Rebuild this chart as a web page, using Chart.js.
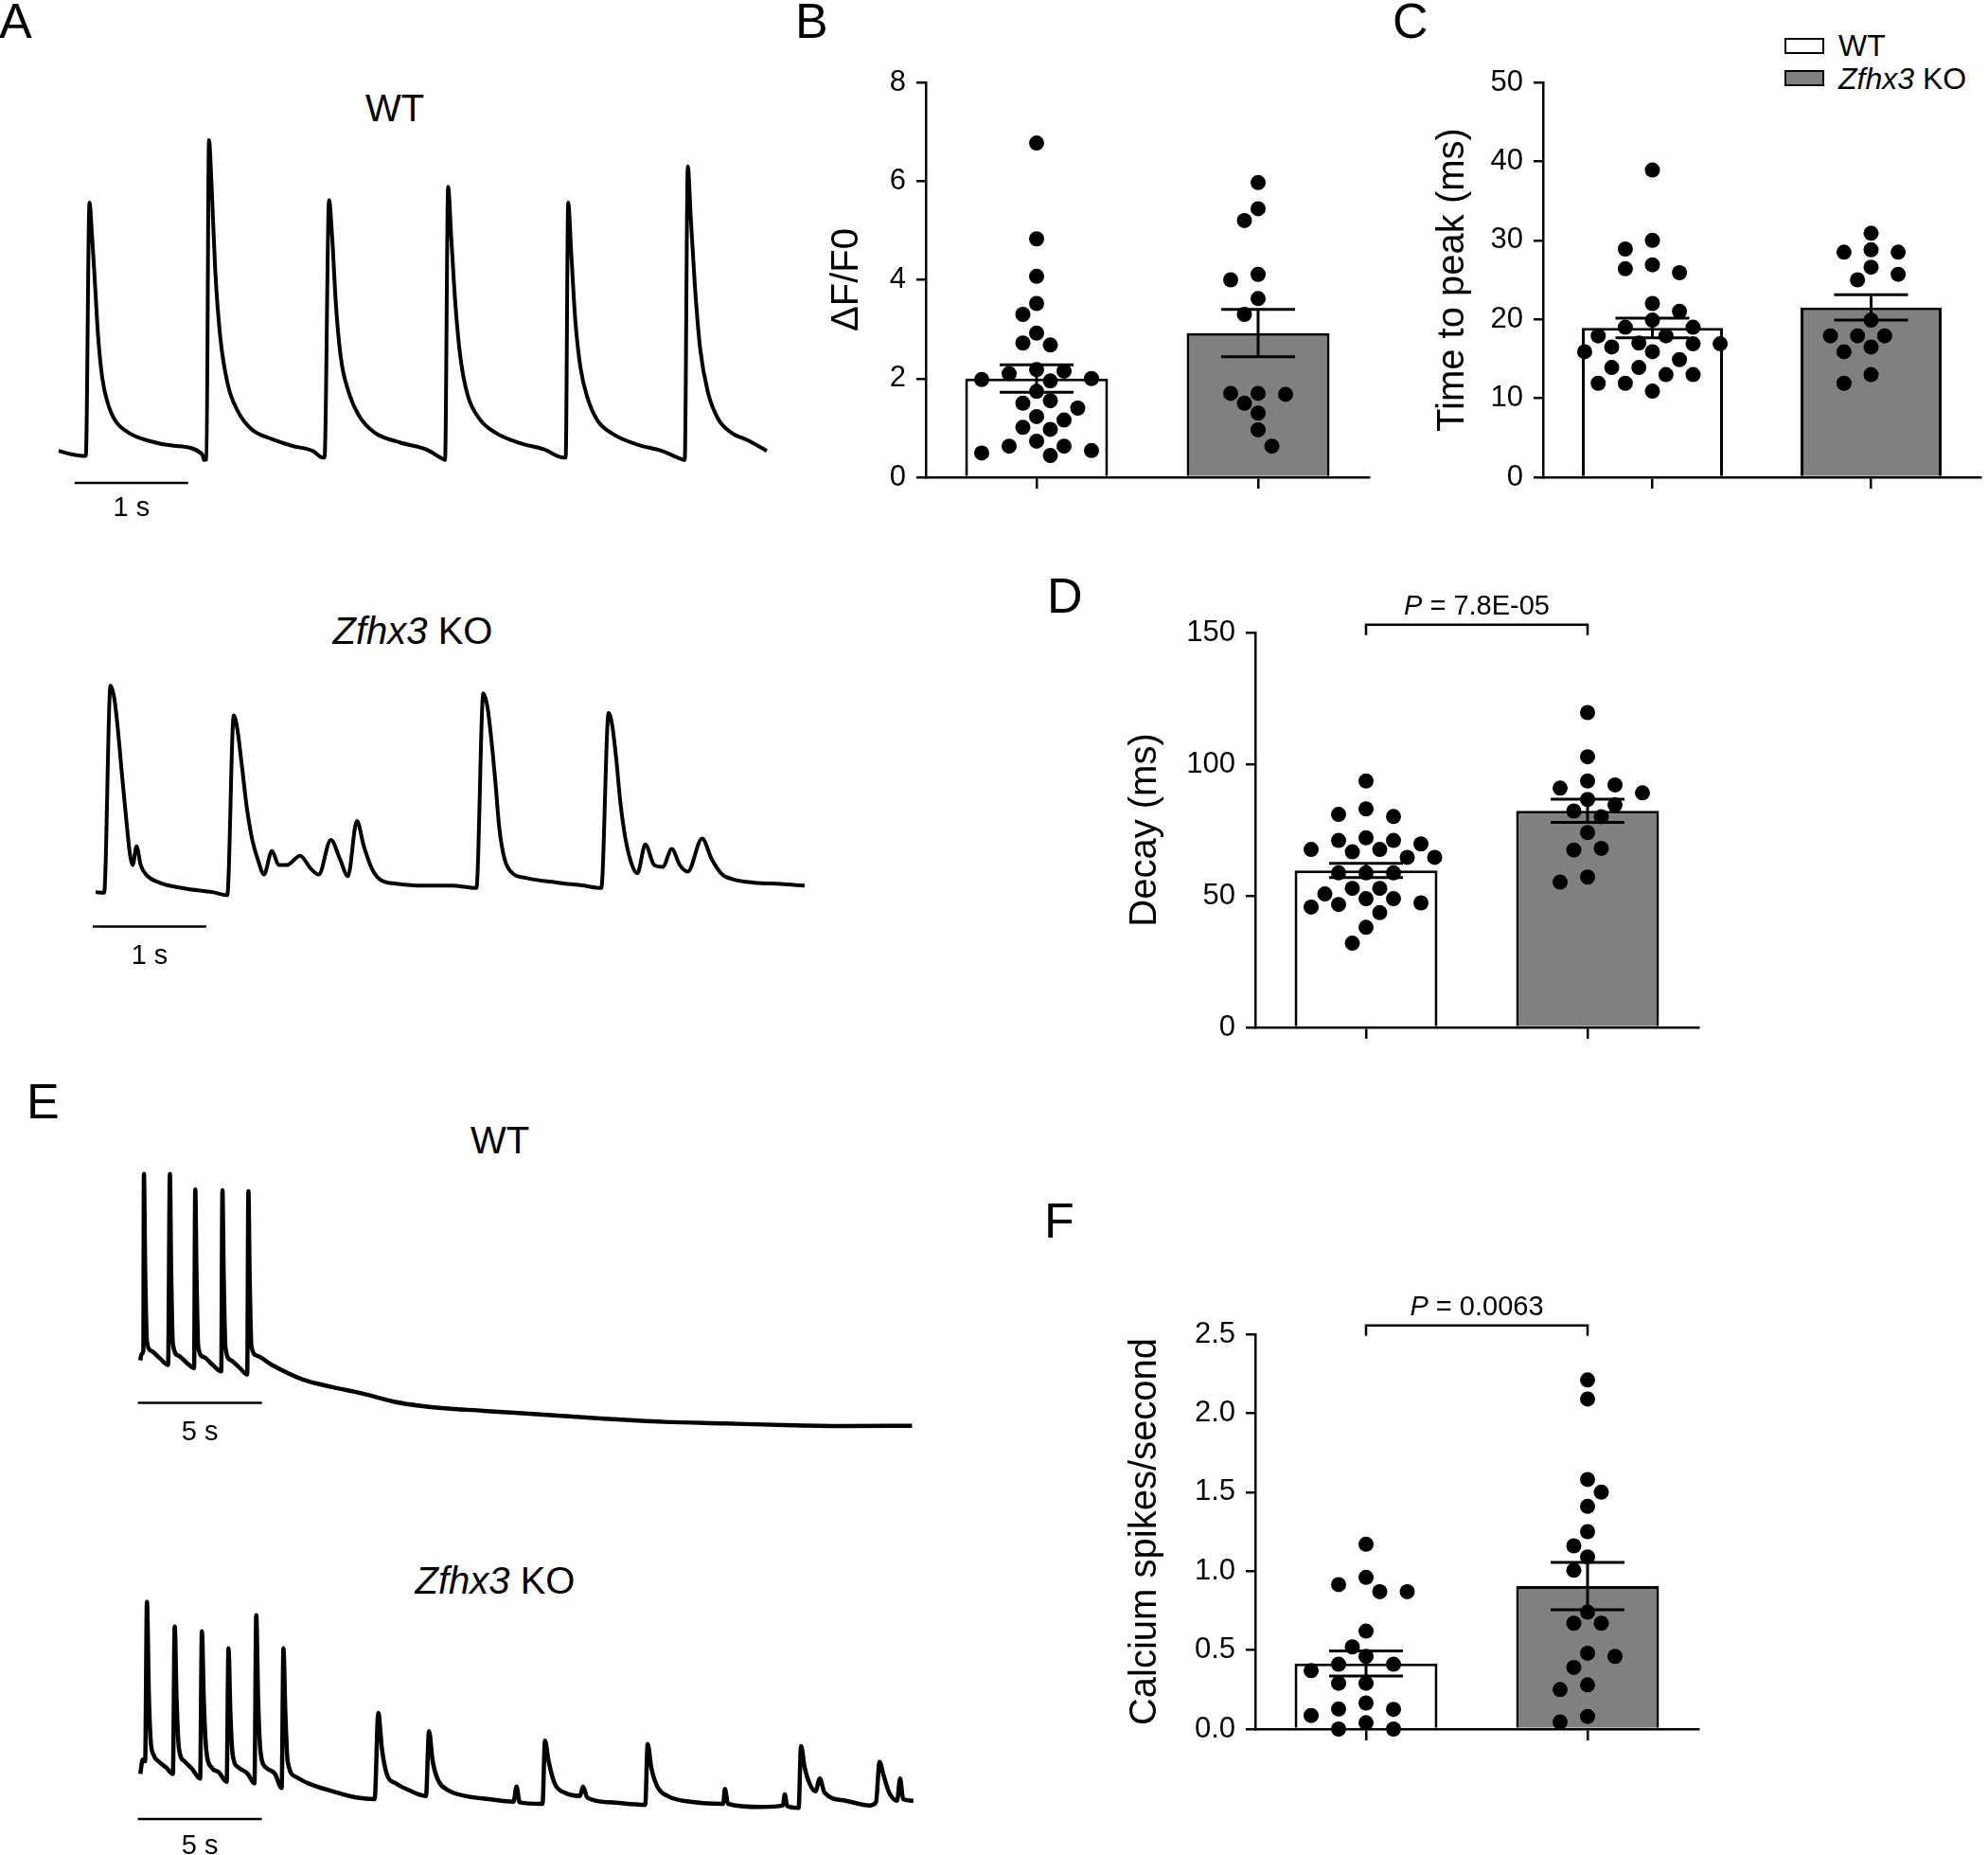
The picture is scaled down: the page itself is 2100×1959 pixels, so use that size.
<!DOCTYPE html>
<html>
<head>
<meta charset="utf-8">
<title>Zfhx3 KO calcium transients</title>
<script src="https://cdn.jsdelivr.net/npm/chart.js@4.4.0/dist/chart.umd.min.js"></script>
<style>
  body { margin: 0; background: #fff; }
  #fig { position: relative; width: 2100px; height: 1959px; overflow: hidden;
         font-family: "Liberation Sans", Arial, sans-serif; color: #000; }
  #fig canvas { position: absolute; }
  .lbl { position: absolute; white-space: nowrap; line-height: 1; }
  .panel { font-size: 52px; }
  .title { font-size: 40px; transform: translateX(-50%); }
  .leg { font-size: 32px; }
  .box { position: absolute; box-sizing: border-box; border: 2px solid #000; width: 42px; height: 17px; }
</style>
</head>
<body>
<div id="fig">
  <div class="lbl panel" style="left:-1px;top:-4px">A</div>
  <div class="lbl panel" style="left:840px;top:-4px">B</div>
  <div class="lbl panel" style="left:1471px;top:-4px">C</div>
  <div class="lbl panel" style="left:1106px;top:603px">D</div>
  <div class="lbl panel" style="left:28px;top:1137px">E</div>
  <div class="lbl panel" style="left:1103px;top:1263px">F</div>

  <div class="lbl title" style="left:417px;top:94px">WT</div>
  <div class="lbl title" style="left:436px;top:646px"><i>Zfhx3</i> KO</div>
  <div class="lbl title" style="left:528px;top:1184px">WT</div>
  <div class="lbl title" style="left:523px;top:1649px"><i>Zfhx3</i> KO</div>

  <div class="box" style="left:1885px;top:40px;background:#fff"></div>
  <div class="lbl leg" style="left:1942px;top:32px">WT</div>
  <div class="box" style="left:1885px;top:74px;background:#808080"></div>
  <div class="lbl leg" style="left:1942px;top:67px"><i>Zfhx3</i> KO</div>

  <canvas id="aWt" width="816" height="428" style="left:26px;top:132px"></canvas>
  <canvas id="aKo" width="840" height="335" style="left:41px;top:698px"></canvas>
  <canvas id="eWt" width="865" height="317" style="left:122px;top:1223px"></canvas>
  <canvas id="eKo" width="865" height="290" style="left:122px;top:1680px"></canvas>

  <canvas id="dfChart" width="600" height="520" style="left:860px;top:40px"></canvas>
  <canvas id="ttpChart" width="620" height="520" style="left:1480px;top:40px"></canvas>
  <canvas id="decayChart" width="660" height="540" style="left:1160px;top:600px"></canvas>
  <canvas id="spikeChart" width="660" height="540" style="left:1160px;top:1340px"></canvas>
</div>

<script>
// ---- panel A traces: time (s) and dF/F0 (arbitrary units, baseline ~0) ----
var aWtTime = [0, 0.113, 0.226, 0.239, 0.271, 0.294, 0.316, 0.348, 0.384, 0.429, 0.497, 0.61, 0.79, 1.016, 1.265,
  1.278, 1.301, 1.323, 1.346, 1.378, 1.423, 1.49, 1.581, 1.694, 1.875, 2.055, 2.236, 2.326,
  2.34, 2.38, 2.407, 2.44, 2.484, 2.552, 2.642, 2.778, 3.004, 3.23, 3.388,
  3.401, 3.428, 3.455, 3.492, 3.537, 3.6, 3.704, 3.84, 4.043, 4.269, 4.449,
  4.463, 4.485, 4.512, 4.548, 4.594, 4.657, 4.743, 4.879, 5.082, 5.308, 5.488,
  5.511, 5.538, 5.565, 5.601, 5.646, 5.714, 5.804, 5.917, 6.075, 6.233];
var aWtTrace = [0.15, 0.05, 0, 0, 7.5, 6.5, 5.3, 3.5, 2.3, 1.6, 1.05, 0.7, 0.45, 0.3, 0.05,
  -0.12, -0.1, 9.35, 8.0, 5.5, 3.5, 2.1, 1.3, 0.8, 0.5, 0.3, 0.15, -0.05,
  -0.05, 7.57, 6.5, 4.5, 2.9, 1.9, 1.2, 0.7, 0.4, 0.2, -0.1,
  -0.12, 7.97, 6.5, 4.5, 2.9, 1.8, 1.1, 0.7, 0.4, 0.2, -0.05,
  -0.05, 7.5, 6.0, 4.0, 2.6, 1.7, 1.05, 0.65, 0.35, 0.15, -0.1,
  -0.12, 8.57, 7.0, 5.0, 3.2, 1.9, 1.1, 0.7, 0.45, 0.15];

var aKoTime = [0, 0.075, 0.131, 0.164, 0.196, 0.234, 0.271, 0.304, 0.327, 0.36, 0.397, 0.444, 0.561, 0.795, 1.029, 1.159,
  1.216, 1.248, 1.286, 1.332, 1.379, 1.435, 1.482, 1.552, 1.613, 1.683, 1.8, 1.893, 1.964, 2.071, 2.151, 2.221, 2.3, 2.361, 2.431, 2.501, 2.665, 2.899, 3.132, 3.352,
  3.413, 3.45, 3.483, 3.52, 3.553, 3.6, 3.67, 3.787, 4.067, 4.301, 4.451,
  4.516, 4.549, 4.582, 4.619, 4.666, 4.722, 4.769, 4.839, 4.918, 4.993, 5.072, 5.143, 5.213, 5.339, 5.423, 5.517, 5.61, 5.797, 6.031, 6.241];
var aKoTrace = [-0.05, -0.07, 6.07, 5.7, 4.77, 3.36, 2.06, 1.03, 0.75, 1.31, 0.75, 0.47, 0.23, 0.05, -0.05, -0.14,
  5.19, 4.77, 3.74, 2.43, 1.5, 0.84, 0.47, 1.17, 0.75, 0.75, 1.03, 0.65, 0.47, 1.5, 0.93, 0.42, 2.06, 1.31, 0.65, 0.33, 0.19, 0.14, 0.14, 0.07,
  5.84, 5.42, 4.49, 3.18, 1.87, 0.93, 0.51, 0.37, 0.23, 0.14, 0.07,
  5.26, 4.86, 3.93, 2.62, 1.5, 0.75, 0.51, 1.36, 0.75, 0.7, 1.23, 0.75, 0.56, 1.54, 0.93, 0.47, 0.33, 0.23, 0.19, 0.14];

// ---- panel E traces (long recordings) ----
var eWtTime = [0, 0.049, 0.122, 0.146, 0.195, 0.268, 0.438, 0.803, 1.12,
  1.193, 1.241, 1.314, 1.533, 1.898, 2.166,
  2.215, 2.264, 2.337, 2.556, 2.92, 3.262,
  3.31, 3.359, 3.432, 3.651, 4.016, 4.308,
  4.357, 4.405, 4.478, 4.697, 5.306,
  6.523, 7.74, 8.957, 10.17, 11.39, 13.83, 16.26, 18.69, 21.13, 23.56, 25.99, 28.42, 31.1];
var eWtTrace = [2.1, 2.3, 2.4, 8.0, 5.0, 2.7, 2.4, 2.15, 1.95,
  8.0, 5.0, 2.6, 2.25, 2.0, 1.85,
  7.5, 4.8, 2.5, 2.2, 1.95, 1.75,
  7.48, 4.8, 2.5, 2.1, 1.85, 1.65,
  7.45, 4.8, 2.55, 2.25, 1.95,
  1.5, 1.25, 1.05, 0.8, 0.65, 0.5, 0.38, 0.25, 0.15, 0.1, 0.05, 0.02, 0.03];

var eKoTime = [0, 0.097, 0.195, 0.268, 0.341, 0.414, 0.535, 0.73, 1.047, 1.314,
  1.387, 1.46, 1.558, 1.777, 2.093, 2.41,
  2.483, 2.556, 2.653, 2.872, 3.164, 3.481,
  3.554, 3.627, 3.724, 3.967, 4.333, 4.6,
  4.673, 4.746, 4.844, 5.063, 5.428, 5.696,
  5.769, 5.842, 5.939, 6.28, 6.767, 7.74, 8.714, 9.444,
  9.59, 9.736, 9.931, 10.296, 10.783, 11.513,
  11.635, 11.781, 12.0, 12.365, 13.095, 14.069, 15.042, 15.164, 15.286, 16.21,
  16.308, 16.454, 16.697, 17.111, 17.72, 17.841, 18.012, 18.937, 20.349,
  20.446, 20.592, 20.835, 21.249, 22.344, 23.488, 23.561, 23.683, 25.022, 25.898, 25.971, 26.068, 26.53,
  26.628, 26.774, 26.968, 27.212, 27.383, 27.577, 28.429, 29.403, 29.646,
  29.792, 29.938, 30.182, 30.498, 30.62, 30.742, 31.155];
var eKoTrace = [1.4, 1.85, 1.8, 6.85, 4.0, 2.5, 2.0, 1.8, 1.6, 1.4,
  6.07, 3.8, 2.2, 1.8, 1.55, 1.25,
  5.92, 3.8, 2.2, 1.6, 1.45, 1.15,
  5.38, 3.4, 2.0, 1.6, 1.4, 1.1,
  6.43, 3.8, 2.1, 1.6, 1.4, 0.95,
  5.38, 3.4, 1.8, 1.3, 1.1, 0.85, 0.65, 0.6,
  3.33, 2.2, 1.4, 1.1, 0.9, 0.7,
  2.75, 1.8, 1.2, 0.9, 0.7, 0.6, 0.52, 1.0, 0.5, 0.45,
  2.45, 1.8, 1.1, 0.8, 0.7, 1.0, 0.65, 0.5, 0.42,
  2.35, 1.6, 1.0, 0.7, 0.5, 0.45, 0.92, 0.45, 0.35, 0.4, 0.75, 0.38, 0.32,
  2.28, 1.6, 1.1, 0.85, 1.25, 0.8, 0.55, 0.4, 0.5,
  1.78, 1.4, 0.8, 0.55, 1.25, 0.6, 0.55];

// ---- bar panels: individual cells, mean and SEM ----
var groups = ['WT', 'Zfhx3 KO'];

var dfWT = [6.77, 4.83, 4.07, 3.52, 3.30, 2.92, 2.72, 2.68, 2.18, 2.15, 2.10, 2.00, 1.98, 1.95, 1.74, 1.55, 1.50, 1.40,
  1.23, 1.16, 1.01, 0.97, 0.73, 0.63, 0.63, 0.54, 0.49, 0.44];
var dfKO = [5.97, 5.44, 5.20, 4.11, 4.00, 3.62, 3.30, 1.70, 1.70, 1.68, 1.50, 1.30, 0.96, 0.63];
var dfMean = [2.00, 2.92];
var dfSem = [0.28, 0.48];

var ttpWT = [38.9, 30.0, 28.9, 26.9, 26.4, 25.9, 22.0, 21.0, 19.9, 19.0, 19.0, 17.9, 17.9, 17.0, 16.9, 16.9, 16.5,
  15.9, 15.9, 14.9, 13.9, 13.9, 13.0, 13.0, 11.9, 11.9, 10.9];
var ttpKO = [30.9, 28.8, 28.5, 28.5, 26.6, 25.7, 25.0, 19.9, 17.9, 17.9, 17.9, 16.5, 15.9, 13.0, 11.9];
var ttpMean = [18.9, 21.5];
var ttpSem = [1.25, 1.6];

var decayWT = [93.6, 83.0, 80.9, 80.1, 72.0, 71.0, 71.0, 69.7, 67.6, 67.6, 66.7, 64.6, 64.6, 58.7, 58.7, 58.7,
  52.8, 52.8, 50.7, 48.9, 48.9, 47.3, 46.7, 45.7, 43.6, 38.0, 32.0];
var decayKO = [119.6, 102.8, 93.6, 92.1, 90.9, 89.1, 86.6, 84.5, 82.2, 80.0, 74.0, 68.0, 67.4, 57.1, 55.2];
var decayMean = [59.6, 82.3];
var decaySem = [2.7, 4.4];
var decayP = '7.8E-05';

var spikeWT = [1.17, 0.96, 0.915, 0.87, 0.87, 0.62, 0.52, 0.46, 0.41, 0.41, 0.37, 0.29, 0.29, 0.165, 0.127, 0.125,
  0.086, 0.04, 0.0, 0.0];
var spikeKO = [2.21, 2.09, 1.58, 1.50, 1.41, 1.25, 1.16, 1.09, 1.005, 0.74, 0.67, 0.67, 0.48, 0.46, 0.39, 0.28,
  0.25, 0.08, 0.045];
var spikeMean = [0.415, 0.905];
var spikeSem = [0.08, 0.15];
var spikeP = '0.0063';

Chart.defaults.font.family = '"Liberation Sans", Arial, sans-serif';
Chart.defaults.color = '#000';

var PLOT_W = 468, PLOT_H = 417;

// push dots sideways (half-dot steps, at most 5 each way) so they don't pile up;
// alternate the side tried first so the cloud stays balanced
function swarm(values, center, yMax) {
  var pxY = PLOT_H / yMax, pxX = PLOT_W / 2, half = 14.5 / pxX;
  var placed = [];
  values.forEach(function (v, idx) {
    var side = idx % 2 ? 1 : -1;
    var best = null, bestGap = -1;
    for (var k = 0; k <= 10; k++) {
      var n = k === 0 ? 0 : side * (k % 2 ? Math.ceil(k / 2) : -Math.ceil(k / 2));
      var x = center + n * half;
      var gap = placed.reduce(function (g, p) {
        return Math.min(g, Math.hypot((p.x - x) * pxX, (p.y - v) * pxY));
      }, Infinity);
      if (gap >= 17.5) { best = x; break; }
      if (gap > bestGap) { bestGap = gap; best = x; }
    }
    placed.push({ x: best, y: v });
  });
  return placed;
}

// error bars, significance bracket and P value
var errorBars = {
  id: 'errorBars',
  afterDatasetsDraw: function (chart, args, opts) {
    var ctx = chart.ctx, x = chart.scales.x, y = chart.scales.y;
    ctx.save();
    ctx.strokeStyle = '#000';
    ctx.lineWidth = 3;
    opts.mean.forEach(function (m, i) {
      var cx = x.getPixelForValue(i);
      var top = y.getPixelForValue(m + opts.sem[i]);
      var bot = y.getPixelForValue(m - opts.sem[i]);
      ctx.beginPath();
      ctx.moveTo(cx, top); ctx.lineTo(cx, bot);
      ctx.moveTo(cx - 39, top); ctx.lineTo(cx + 39, top);
      ctx.moveTo(cx - 39, bot); ctx.lineTo(cx + 39, bot);
      ctx.stroke();
    });
    if (opts.p) {
      var x0 = x.getPixelForValue(0), x1 = x.getPixelForValue(1);
      var by = y.getPixelForValue(opts.bracketAt);
      ctx.lineWidth = 2.5;
      ctx.beginPath();
      ctx.moveTo(x0, by + 11); ctx.lineTo(x0, by); ctx.lineTo(x1, by); ctx.lineTo(x1, by + 11);
      ctx.stroke();
      var rest = ' = ' + opts.p;
      ctx.fillStyle = '#000';
      ctx.textBaseline = 'alphabetic';
      ctx.font = 'italic 29px "Liberation Sans", Arial, sans-serif';
      var wP = ctx.measureText('P').width;
      ctx.font = '29px "Liberation Sans", Arial, sans-serif';
      var wR = ctx.measureText(rest).width;
      var sx = (x0 + x1) / 2 - (wP + wR) / 2;
      ctx.font = 'italic 29px "Liberation Sans", Arial, sans-serif';
      ctx.fillText('P', sx, by - 11);
      ctx.font = '29px "Liberation Sans", Arial, sans-serif';
      ctx.fillText(rest, sx + wP, by - 11);
    }
    ctx.restore();
  }
};

function barPanel(id, wt, ko, mean, sem, cfg) {
  new Chart(document.getElementById(id), {
    type: 'bar',
    data: {
      labels: groups,
      datasets: [
        {
          type: 'scatter', xAxisID: 'x2', order: 1,
          data: swarm(wt, 0, cfg.yMax).concat(swarm(ko, 1, cfg.yMax)),
          pointRadius: 8, pointBackgroundColor: '#000', pointBorderWidth: 0, clip: false
        },
        {
          order: 2, data: mean, grouped: false,
          backgroundColor: ['#ffffff', '#808080'],
          borderColor: '#000', borderWidth: 3,
          barPercentage: 0.645, categoryPercentage: 1
        }
      ]
    },
    options: {
      responsive: false, animation: false, events: [], devicePixelRatio: 1,
      layout: { padding: { left: 0, top: cfg.padTop, right: cfg.padRight, bottom: 0 } },
      plugins: {
        legend: { display: false }, tooltip: { enabled: false },
        errorBars: { mean: mean, sem: sem, p: cfg.p, bracketAt: cfg.bracketAt }
      },
      scales: {
        x: {
          type: 'category',
          ticks: { display: false },
          grid: { offset: false, drawOnChartArea: false, tickLength: 12, color: '#000', lineWidth: 2.5 },
          border: { color: '#000', width: 2.5 },
          afterFit: function (s) { s.height = cfg.xAxisH; }
        },
        x2: { type: 'linear', display: false, offset: false, grid: { offset: false }, min: -0.5, max: 1.5 },
        y: {
          min: 0, max: cfg.yMax,
          ticks: { stepSize: cfg.step, padding: 11, font: { size: 31 }, callback: cfg.fmt },
          grid: { drawOnChartArea: false, tickLength: 10, color: '#000', lineWidth: 2.5 },
          border: { color: '#000', width: 2.5 },
          title: { display: true, text: cfg.title, font: { size: 40 }, padding: { top: cfg.titlePad, bottom: 0 } },
          afterFit: function (s) { s.width = cfg.yAxisW; }
        }
      }
    },
    plugins: [errorBars]
  });
}

barPanel('dfChart', dfWT, dfKO, dfMean, dfSem,
  { yMax: 8, step: 2, title: '\u0394F/F0', titlePad: 11, yAxisW: 118, xAxisH: 56, padTop: 47, padRight: 14 });
barPanel('ttpChart', ttpWT, ttpKO, ttpMean, ttpSem,
  { yMax: 50, step: 10, title: 'Time to peak (ms)', titlePad: 31, yAxisW: 150, xAxisH: 56, padTop: 47, padRight: 0 });
barPanel('decayChart', decayWT, decayKO, decayMean, decaySem,
  { yMax: 150, step: 50, title: 'Decay (ms)', titlePad: 26, yAxisW: 166, xAxisH: 55, padTop: 68, padRight: 26,
    p: decayP, bracketAt: 153 });
barPanel('spikeChart', spikeWT, spikeKO, spikeMean, spikeSem,
  { yMax: 2.5, step: 0.5, title: 'Calcium spikes/second', titlePad: 26, yAxisW: 166, xAxisH: 54, padTop: 69, padRight: 26,
    fmt: function (v) { return v.toFixed(1); }, p: spikeP, bracketAt: 2.555 });

// time scale bar under each trace
var scaleBar = {
  id: 'scaleBar',
  afterDatasetsDraw: function (chart, args, o) {
    var ctx = chart.ctx, x = chart.scales.x, y = chart.scales.y;
    var a = x.getPixelForValue(o.x0), b = x.getPixelForValue(o.x0 + o.len);
    var by = y.getPixelForValue(o.y);
    ctx.save();
    ctx.strokeStyle = '#000';
    ctx.lineWidth = 2.5;
    ctx.beginPath(); ctx.moveTo(a, by); ctx.lineTo(b, by); ctx.stroke();
    ctx.fillStyle = '#000';
    ctx.font = '29px "Liberation Sans", Arial, sans-serif';
    ctx.textAlign = 'center';
    ctx.textBaseline = 'middle';
    ctx.fillText(o.label, (a + b) / 2, y.getPixelForValue(o.labelY));
    ctx.restore();
  }
};

function tracePanel(id, time, trace, cfg) {
  new Chart(document.getElementById(id), {
    type: 'line',
    data: {
      datasets: [{
        data: time.map(function (t, i) { return { x: t, y: trace[i] }; }),
        borderColor: '#000', borderWidth: cfg.lw, pointRadius: 0,
        cubicInterpolationMode: 'monotone', clip: false
      }]
    },
    options: {
      responsive: false, animation: false, events: [], devicePixelRatio: 1,
      layout: { padding: 0 },
      plugins: { legend: { display: false }, tooltip: { enabled: false }, scaleBar: cfg.bar },
      scales: {
        x: { type: 'linear', display: false, min: cfg.xMin, max: cfg.xMax },
        y: { type: 'linear', display: false, min: cfg.yMin, max: cfg.yMax }
      }
    },
    plugins: [scaleBar]
  });
}

tracePanel('aWt', aWtTime, aWtTrace, { lw: 4, xMin: -0.3, xMax: 6.5, yMin: -2.2, yMax: 9.8,
  bar: { x0: 0.14, len: 1, y: -0.8, labelY: -1.55, label: '1 s' } });
tracePanel('aKo', aKoTime, aKoTrace, { lw: 4, xMin: -0.5, xMax: 6.5, yMin: -2.6, yMax: 6.8,
  bar: { x0: -0.025, len: 1, y: -1.07, labelY: -1.96, label: '1 s' } });
tracePanel('eWt', eWtTime, eWtTrace, { lw: 4.5, xMin: -1, xMax: 32, yMin: -1, yMax: 8.5,
  bar: { x0: -0.1, len: 5, y: 0.75, labelY: -0.2, label: '5 s' } });
tracePanel('eKo', eKoTime, eKoTrace, { lw: 4.5, xMin: -1, xMax: 32, yMin: -1.5, yMax: 7.2,
  bar: { x0: -0.1, len: 5, y: -0.03, labelY: -0.9, label: '5 s' } });
</script>
</body>
</html>
